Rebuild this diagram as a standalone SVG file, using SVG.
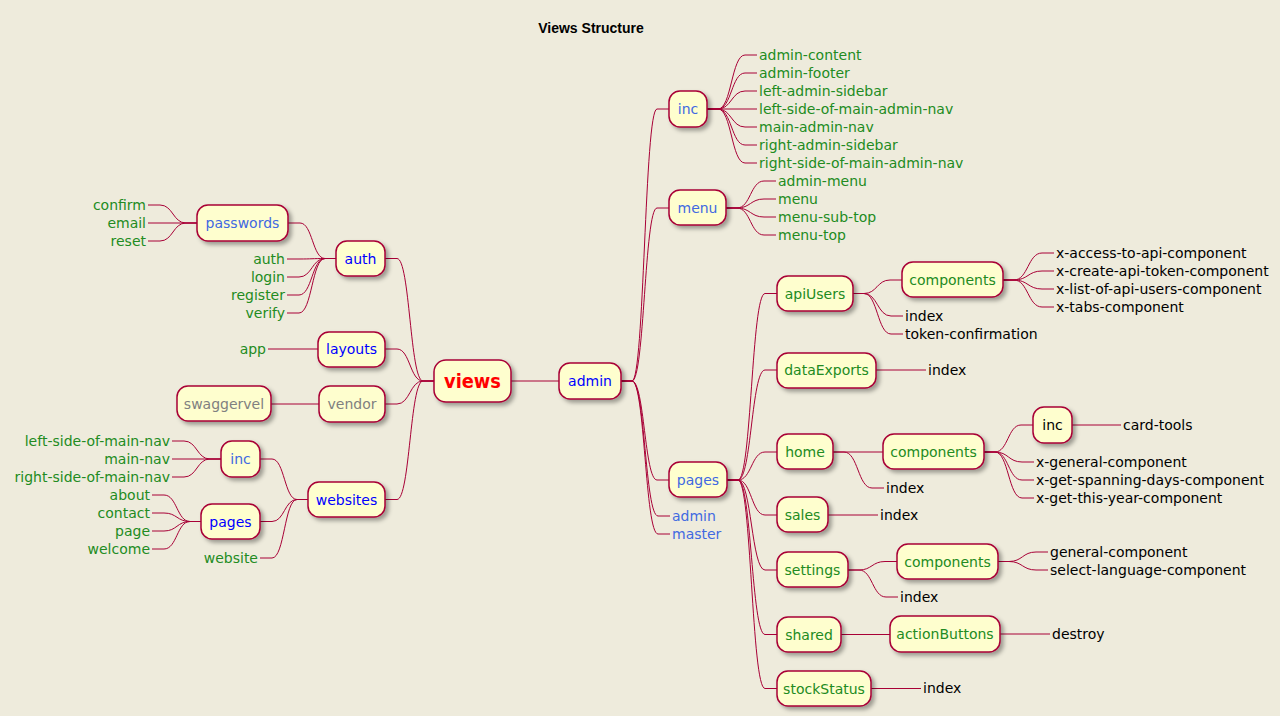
<svg xmlns="http://www.w3.org/2000/svg" width="1280" height="716" viewBox="0 0 1280 716">
<defs>
<filter id="sh" x="-20%" y="-30%" width="150%" height="170%">
<feDropShadow dx="3" dy="3" stdDeviation="2" flood-color="#000" flood-opacity="0.35"/>
</filter>
<style>
text{font-family:"DejaVu Sans","Liberation Sans",sans-serif;font-size:14px}
.box{fill:#FEFECE;stroke:#A80036;stroke-width:1.5;filter:url(#sh)}
.c path{fill:none;stroke:#A80036;stroke-width:1}
.nt{text-anchor:middle}
.rl{text-anchor:start}
.ll{text-anchor:end}
.red{fill:#FF0000;font-weight:bold;font-size:20px}
.b1{fill:#0000FF}
.b2{fill:#4169E1}
.gr{fill:#808080}
.g{fill:#228B22}
.k{fill:#000000}
.title{font-family:"Liberation Sans",Arial,sans-serif;font-weight:bold;font-size:14px;text-anchor:middle;fill:#000}
</style>
</defs>
<rect width="1280" height="716" fill="#EEEBDC"/>
<text class="title" x="591" y="33">Views Structure</text>

<g class="c" id="connectors">
<path d="M511 381 H559"/>
<path d="M621 381 H632 C644.5 381 644.5 109 657 109 H669"/>
<path d="M621 381 H632 C644.5 381 644.5 208 657 208 H669"/>
<path d="M621 381 H632 C644.5 381 644.5 480 657 480 H669"/>
<path d="M621 381 H632 C645 381 645 516 658 516 H670"/>
<path d="M621 381 H632 C645 381 645 534 658 534 H670"/>
<path d="M707 109 H718 C731.5 109 731.5 55 745 55 H757"/>
<path d="M707 109 H718 C731.5 109 731.5 73 745 73 H757"/>
<path d="M707 109 H718 C731.5 109 731.5 91 745 91 H757"/>
<path d="M707 109 H757"/>
<path d="M707 109 H718 C731.5 109 731.5 127 745 127 H757"/>
<path d="M707 109 H718 C731.5 109 731.5 145 745 145 H757"/>
<path d="M707 109 H718 C731.5 109 731.5 163 745 163 H757"/>
<path d="M726 208 H737 C750.5 208 750.5 181 764 181 H776"/>
<path d="M726 208 H737 C750.5 208 750.5 199 764 199 H776"/>
<path d="M726 208 H737 C750.5 208 750.5 217 764 217 H776"/>
<path d="M726 208 H737 C750.5 208 750.5 235 764 235 H776"/>
<path d="M727 480 H738 C751.5 480 751.5 293.5 765 293.5 H777"/>
<path d="M727 480 H738 C751.5 480 751.5 370 765 370 H777"/>
<path d="M727 480 H738 C751.5 480 751.5 452 765 452 H777"/>
<path d="M727 480 H738 C751.5 480 751.5 515 765 515 H777"/>
<path d="M727 480 H738 C751.5 480 751.5 570 765 570 H777"/>
<path d="M727 480 H738 C751.5 480 751.5 634.5 765 634.5 H777"/>
<path d="M727 480 H738 C751.5 480 751.5 688.5 765 688.5 H777"/>
<path d="M853 293.5 H864 C877 293.5 877 280 890 280 H902"/>
<path d="M853 293.5 H864 C877.5 293.5 877.5 316 891 316 H903"/>
<path d="M853 293.5 H864 C877.5 293.5 877.5 334 891 334 H903"/>
<path d="M1003 280 H1014 C1028 280 1028 253 1042 253 H1054"/>
<path d="M1003 280 H1014 C1028 280 1028 271 1042 271 H1054"/>
<path d="M1003 280 H1014 C1028 280 1028 289 1042 289 H1054"/>
<path d="M1003 280 H1014 C1028 280 1028 307 1042 307 H1054"/>
<path d="M876 370 H926"/>
<path d="M833 452 H883"/>
<path d="M833 452 H844 C858 452 858 488 872 488 H884"/>
<path d="M984 452 H995 C1008 452 1008 425 1021 425 H1033"/>
<path d="M984 452 H995 C1008.5 452 1008.5 462 1022 462 H1034"/>
<path d="M984 452 H995 C1008.5 452 1008.5 480 1022 480 H1034"/>
<path d="M984 452 H995 C1008.5 452 1008.5 498 1022 498 H1034"/>
<path d="M1072 425 H1121"/>
<path d="M828 515 H878"/>
<path d="M848 570 H859 C872 570 872 561.5 885 561.5 H897"/>
<path d="M848 570 H859 C872.5 570 872.5 597 886 597 H898"/>
<path d="M998 561.5 H1009 C1022.5 561.5 1022.5 552 1036 552 H1048"/>
<path d="M998 561.5 H1009 C1022.5 561.5 1022.5 570 1036 570 H1048"/>
<path d="M841 634.5 H890"/>
<path d="M1000 634 H1050"/>
<path d="M871 688.5 H921"/>
<path d="M434 381 H423 C410 381 410 258.5 397 258.5 H385"/>
<path d="M434 381 H423 C410 381 410 349 397 349 H385"/>
<path d="M434 381 H423 C410 381 410 404 397 404 H385"/>
<path d="M434 381 H423 C410 381 410 499.5 397 499.5 H385"/>
<path d="M336 258.5 H325 C312.5 258.5 312.5 223 300 223 H288"/>
<path d="M336 258.5 H325 C312 258.5 312 259 299 259 H287"/>
<path d="M336 258.5 H325 C312 258.5 312 277 299 277 H287"/>
<path d="M336 258.5 H325 C312 258.5 312 295 299 295 H287"/>
<path d="M336 258.5 H325 C312 258.5 312 313 299 313 H287"/>
<path d="M197 223 H186 C173 223 173 205 160 205 H148"/>
<path d="M197 223 H148"/>
<path d="M197 223 H186 C173 223 173 241 160 241 H148"/>
<path d="M318 349 H268"/>
<path d="M319 404 H271"/>
<path d="M308 499.5 H297 C284.5 499.5 284.5 459 272 459 H260"/>
<path d="M308 499.5 H297 C284.5 499.5 284.5 521.5 272 521.5 H260"/>
<path d="M308 499.5 H297 C284.5 499.5 284.5 558 272 558 H260"/>
<path d="M221 459 H210 C197 459 197 441 184 441 H172"/>
<path d="M221 459 H172"/>
<path d="M221 459 H210 C197 459 197 477 184 477 H172"/>
<path d="M201 521.5 H190 C177 521.5 177 495 164 495 H152"/>
<path d="M201 521.5 H190 C177 521.5 177 513 164 513 H152"/>
<path d="M201 521.5 H190 C177 521.5 177 531 164 531 H152"/>
<path d="M201 521.5 H190 C177 521.5 177 549 164 549 H152"/>
</g>

<g id="views"><rect class="box" x="434" y="360" width="77" height="42" rx="12"/><text class="nt red" x="472.5" y="388" textLength="57" lengthAdjust="spacingAndGlyphs">views</text></g>
<g id="admin"><rect class="box" x="559" y="363" width="62" height="36" rx="11"/><text class="nt b1" x="590" y="386">admin</text></g>

<g id="auth"><rect class="box" x="336" y="241" width="49" height="35" rx="11"/><text class="nt b1" x="360.5" y="263.5">auth</text></g>
<g id="passwords"><rect class="box" x="197" y="205" width="91" height="36" rx="11"/><text class="nt b2" x="242.5" y="228">passwords</text></g>
<g id="passwords-leaves"><text class="ll g" x="146" y="210">confirm</text><text class="ll g" x="146" y="228">email</text><text class="ll g" x="146" y="246">reset</text></g>
<g id="auth-leaves"><text class="ll g" x="285" y="264">auth</text><text class="ll g" x="285" y="282">login</text><text class="ll g" x="285" y="300">register</text><text class="ll g" x="285" y="318">verify</text></g>
<g id="layouts"><rect class="box" x="318" y="332" width="67" height="35" rx="11"/><text class="nt b1" x="351.5" y="354">layouts</text></g>
<g id="app"><text class="ll g" x="266" y="354">app</text></g>
<g id="vendor"><rect class="box" x="319" y="386" width="66" height="36" rx="11"/><text class="nt gr" x="352" y="409">vendor</text></g>
<g id="swaggervel"><rect class="box" x="177" y="386" width="94" height="35" rx="11"/><text class="nt gr" x="224" y="409">swaggervel</text></g>
<g id="websites"><rect class="box" x="308" y="482" width="77" height="35" rx="11"/><text class="nt b1" x="346.5" y="504.5">websites</text></g>
<g id="inc-web"><rect class="box" x="221" y="441" width="39" height="36" rx="11"/><text class="nt b2" x="240.5" y="464">inc</text></g>
<g id="inc-web-leaves"><text class="ll g" x="170" y="446">left-side-of-main-nav</text><text class="ll g" x="170" y="464">main-nav</text><text class="ll g" x="170" y="482">right-side-of-main-nav</text></g>
<g id="pages-web"><rect class="box" x="201" y="504" width="59" height="35" rx="11"/><text class="nt b1" x="230.5" y="526.5">pages</text></g>
<g id="pages-web-leaves"><text class="ll g" x="150" y="500">about</text><text class="ll g" x="150" y="518">contact</text><text class="ll g" x="150" y="536">page</text><text class="ll g" x="150" y="554">welcome</text></g>
<g id="website"><text class="ll g" x="258" y="563">website</text></g>

<g id="inc-admin"><rect class="box" x="669" y="91" width="38" height="36" rx="11"/><text class="nt b2" x="688" y="114">inc</text></g>
<g id="inc-admin-leaves"><text class="rl g" x="759" y="60">admin-content</text><text class="rl g" x="759" y="78">admin-footer</text><text class="rl g" x="759" y="96">left-admin-sidebar</text><text class="rl g" x="759" y="114">left-side-of-main-admin-nav</text><text class="rl g" x="759" y="132">main-admin-nav</text><text class="rl g" x="759" y="150">right-admin-sidebar</text><text class="rl g" x="759" y="168">right-side-of-main-admin-nav</text></g>
<g id="menu"><rect class="box" x="669" y="190" width="57" height="35" rx="11"/><text class="nt b2" x="697.5" y="212.5">menu</text></g>
<g id="menu-leaves"><text class="rl g" x="778" y="186">admin-menu</text><text class="rl g" x="778" y="204">menu</text><text class="rl g" x="778" y="222">menu-sub-top</text><text class="rl g" x="778" y="240">menu-top</text></g>
<g id="pages-admin"><rect class="box" x="669" y="462" width="58" height="35" rx="11"/><text class="nt b2" x="698" y="484.5">pages</text></g>
<g id="admin-leaves"><text class="rl b2" x="672" y="521">admin</text><text class="rl b2" x="672" y="539">master</text></g>

<g id="apiUsers"><rect class="box" x="777" y="276" width="76" height="35" rx="11"/><text class="nt g" x="815" y="298.5">apiUsers</text></g>
<g id="components-api"><rect class="box" x="902" y="262" width="101" height="35" rx="11"/><text class="nt g" x="952.5" y="284.5">components</text></g>
<g id="components-api-leaves"><text class="rl k" x="1056" y="258">x-access-to-api-component</text><text class="rl k" x="1056" y="276">x-create-api-token-component</text><text class="rl k" x="1056" y="294">x-list-of-api-users-component</text><text class="rl k" x="1056" y="312">x-tabs-component</text></g>
<g id="apiUsers-leaves"><text class="rl k" x="905" y="321">index</text><text class="rl k" x="905" y="339">token-confirmation</text></g>
<g id="dataExports"><rect class="box" x="777" y="353" width="99" height="35" rx="11"/><text class="nt g" x="826.5" y="375">dataExports</text></g>
<g id="dataExports-index"><text class="rl k" x="928" y="375">index</text></g>
<g id="home"><rect class="box" x="777" y="434" width="56" height="35" rx="11"/><text class="nt g" x="805" y="457">home</text></g>
<g id="components-home"><rect class="box" x="883" y="434" width="101" height="35" rx="11"/><text class="nt g" x="933.5" y="457">components</text></g>
<g id="home-index"><text class="rl k" x="886" y="493">index</text></g>
<g id="inc-home"><rect class="box" x="1033" y="407" width="39" height="36" rx="11"/><text class="nt k" x="1052.5" y="430">inc</text></g>
<g id="card-tools"><text class="rl k" x="1123" y="430">card-tools</text></g>
<g id="components-home-leaves"><text class="rl k" x="1036" y="467">x-general-component</text><text class="rl k" x="1036" y="485">x-get-spanning-days-component</text><text class="rl k" x="1036" y="503">x-get-this-year-component</text></g>
<g id="sales"><rect class="box" x="777" y="497" width="51" height="35" rx="11"/><text class="nt g" x="802.5" y="520">sales</text></g>
<g id="sales-index"><text class="rl k" x="880" y="520">index</text></g>
<g id="settings"><rect class="box" x="777" y="552" width="71" height="35" rx="11"/><text class="nt g" x="812.5" y="575">settings</text></g>
<g id="components-settings"><rect class="box" x="897" y="544" width="101" height="35" rx="11"/><text class="nt g" x="947.5" y="566.5">components</text></g>
<g id="components-settings-leaves"><text class="rl k" x="1050" y="557">general-component</text><text class="rl k" x="1050" y="575">select-language-component</text></g>
<g id="settings-index"><text class="rl k" x="900" y="602">index</text></g>
<g id="shared"><rect class="box" x="777" y="617" width="64" height="35" rx="11"/><text class="nt g" x="809" y="639.5">shared</text></g>
<g id="actionButtons"><rect class="box" x="890" y="616" width="110" height="36" rx="11"/><text class="nt g" x="945" y="639">actionButtons</text></g>
<g id="destroy"><text class="rl k" x="1052" y="639">destroy</text></g>
<g id="stockStatus"><rect class="box" x="777" y="671" width="94" height="35" rx="11"/><text class="nt g" x="824" y="693.5">stockStatus</text></g>
<g id="stockStatus-index"><text class="rl k" x="923" y="693">index</text></g>
</svg>
